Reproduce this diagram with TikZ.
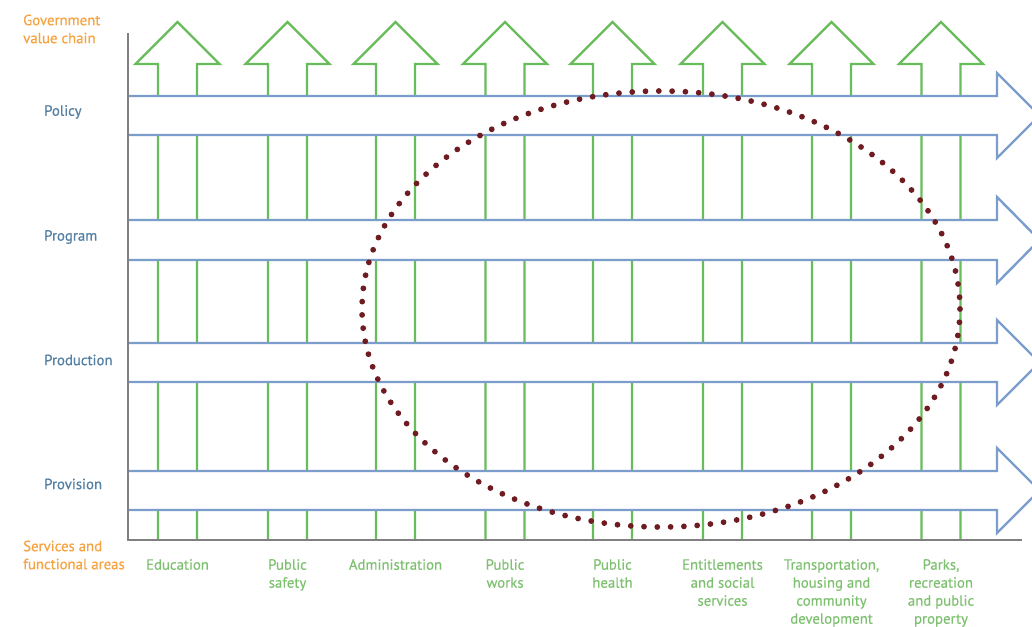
\documentclass[tikz,border=0pt]{standalone}
\usepackage{fontspec}
\setmainfont{PT Sans}
\newfontfamily\labelfont[FakeBold=0.7]{PT Sans}
\newfontfamily\areafont[FakeBold=0.3]{PT Sans}
\usepackage{tikz}
\usetikzlibrary{positioning}
\definecolor{chainorange}{HTML}{F6A443}
\definecolor{rowblue}{HTML}{5480A3}
\definecolor{bandblue}{HTML}{7B9DCB}
\definecolor{shaftgreen}{HTML}{69BC5C}
\definecolor{areagreen}{HTML}{7DC06F}
\definecolor{ringred}{HTML}{6E1C22}
\definecolor{axisgray}{HTML}{808080}
\tikzset{
  shaft/.style={draw=shaftgreen, line width=2.4pt},
  band/.style={draw=bandblue, fill=white, line width=2.4pt},
  axisline/.style={draw=axisgray, line width=2.4pt},
  ring/.style={draw=ringred, line width=5.8pt, line cap=round, dash pattern=on 0pt off 13.3pt},
  chainlabel/.style={anchor=west, inner sep=0pt, align=left, text=chainorange, font=\labelfont\fontsize{14.8}{18}\selectfont},
  rowlabel/.style={anchor=west, inner sep=0pt, text=rowblue, font=\labelfont\fontsize{14.8}{18}\selectfont},
  arealabel/.style={anchor=north, inner sep=0pt, align=center, text=areagreen, font=\areafont\fontsize{14.8}{18}\selectfont}
}
\begin{document}
\begin{tikzpicture}[x=1pt,y=-1pt]
\useasboundingbox (0,0) rectangle (1032,626);
\foreach \cx in {177.5,287.5,395.5,505,612.5,722.5,831.5,941}
  \draw[shaft] (\cx-19.5,540) -- (\cx-19.5,64) -- (\cx-42,64) -- (\cx,22) -- (\cx+42,64) -- (\cx+19.5,64) -- (\cx+19.5,540);
\foreach \t/\b in {96/135,220/260,343/382,471/510}
  \draw[band] (128,\t) -- (997,\t) -- (997,\t-23) -- (1039.5,{(\t+\b)/2}) -- (997,\b+23) -- (997,\b) -- (128,\b);
\draw[axisline] (128,33) -- (128,540) -- (1022,540);
\draw[ring] (661,309) ellipse [x radius=299, y radius=218];
\node[chainlabel] (govchain) at (23,29) {Government\\value chain};
\node[chainlabel] (services) at (23,555) {Services and\\functional areas};
\node[rowlabel] (policy) at (44,112) {Policy};
\node[rowlabel] (program) at (44,237) {Program};
\node[rowlabel] (production) at (44,360) {Production};
\node[rowlabel] (provision) at (44,484) {Provision};
\foreach \cx/\txt [count=\i] in {177.5/Education, 287.5/{Public\\safety}, 395.5/Administration, 505/{Public\\works}, 612.5/{Public\\health}, 722.5/{Entitlements\\and social\\services}, 831.5/{Transportation,\\housing and\\community\\development}, 941/{Parks,\\recreation\\and public\\property}}
  \node[arealabel] (area\i) at (\cx,559) {\txt};
\end{tikzpicture}
\end{document}
